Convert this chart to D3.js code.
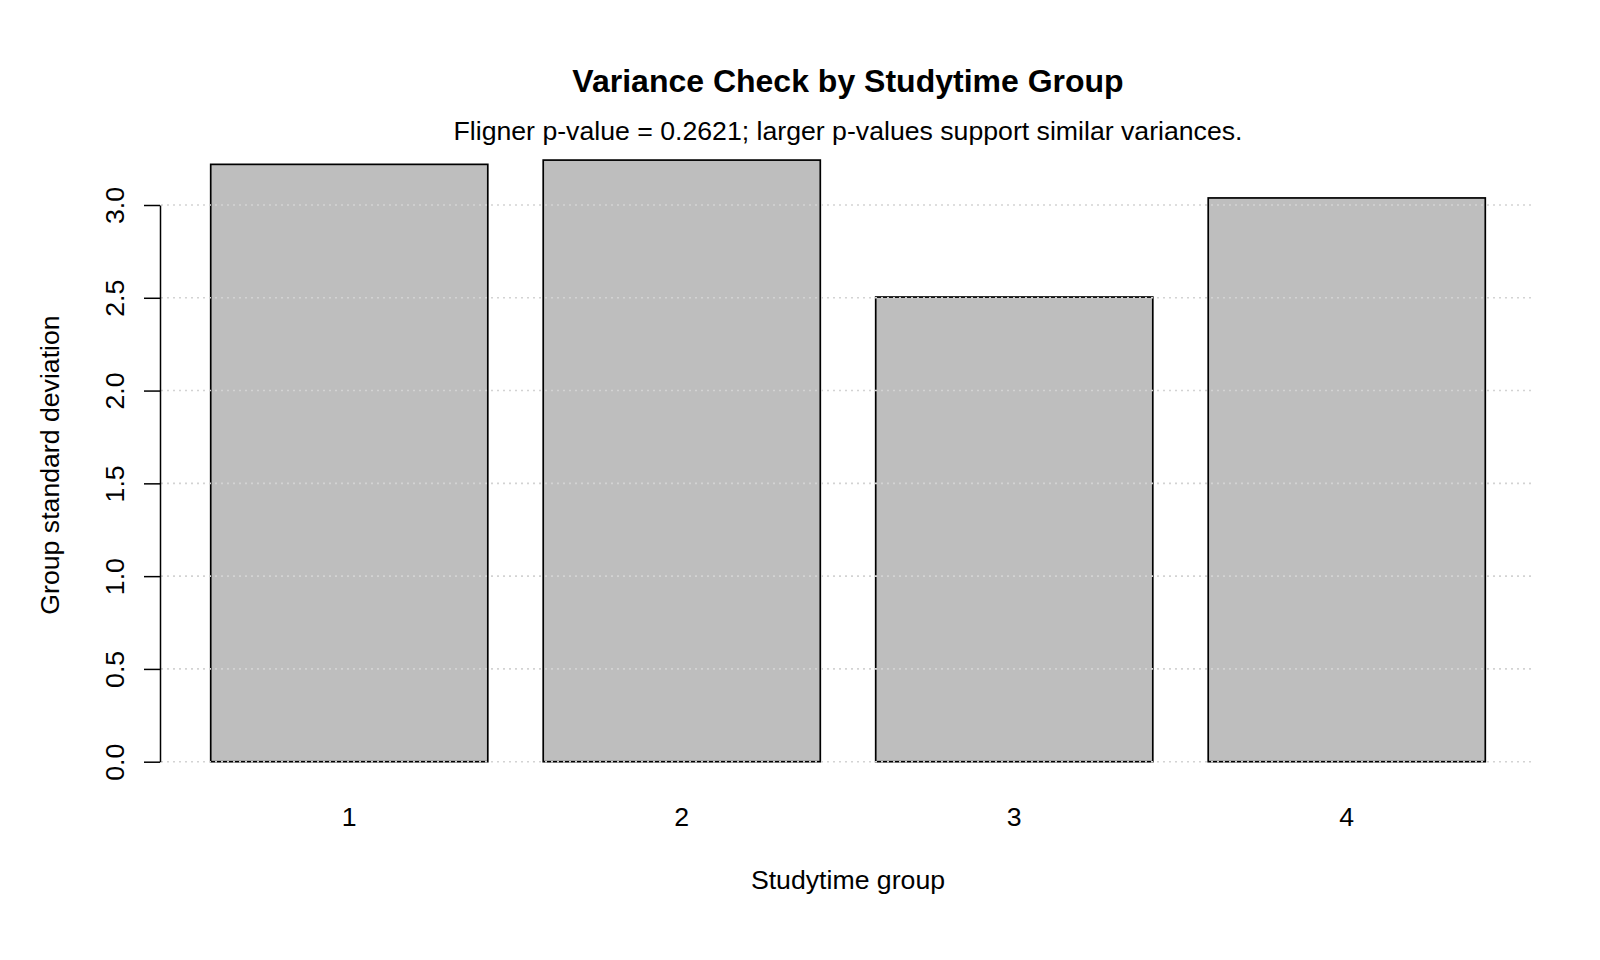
<!DOCTYPE html>
<html>

<head>
    <meta charset="utf-8">
    <style type="text/css">
        body {
            margin: 0;
            background: white;
        }

        text {
            font-family: "Liberation Sans", Arial, sans-serif;
            fill: black;
        }
    </style>
    <title>Variance Check by Studytime Group</title>
</head>

<body>
    <div id="chart"></div>

    <script src="https://cdn.jsdelivr.net/npm/d3@7"></script>
    <script>

        // data
        var groups = ["1", "2", "3", "4"];
        var groupSd = [3.219, 3.242, 2.504, 3.038];
        var yTicks = [0, 0.5, 1.0, 1.5, 2.0, 2.5, 3.0];

        var titleText = "Variance Check by Studytime Group";
        var subtitleText = "Fligner p-value = 0.2621; larger p-values support similar variances.";
        var xLabel = "Studytime group";
        var yLabel = "Group standard deviation";

        var width = 1600,
            height = 960;

        // plot region (R style, axis sits on the left edge)
        var plotLeft = 160,
            plotRight = 1536,
            gridRight = 1531;

        var svg = d3.select("#chart")
            .append("svg")
            .attr("width", width)
            .attr("height", height);

        var x = d3.scaleBand()
            .domain(groups)
            .range([plotLeft, plotRight])
            .paddingInner(0.2 / 1.2)
            .paddingOuter(0.1525);

        var y = d3.scaleLinear()
            .domain([0, 3])
            .range([761.7, 205]);

        //bars
        svg.append("g")
            .selectAll("rect")
            .data(groupSd)
            .enter()
            .append("rect")
            .attr("x", function (d, i) { return x(groups[i]); })
            .attr("y", function (d) { return y(d); })
            .attr("width", x.bandwidth())
            .attr("height", function (d) { return y(0) - y(d); })
            .style("fill", "#bebebe")
            .style("stroke", "black")
            .style("stroke-width", 1.7);

        //dotted reference lines go on top of the bars
        svg.append("g")
            .selectAll("line")
            .data(yTicks)
            .enter()
            .append("line")
            .attr("x1", plotLeft + 1)
            .attr("x2", gridRight)
            .attr("y1", function (d) { return y(d); })
            .attr("y2", function (d) { return y(d); })
            .style("stroke", "#d3d3d3")
            .style("stroke-width", 1.6)
            .style("stroke-dasharray", "2,4");

        //y axis
        var yAxis = svg.append("g")
            .attr("transform", "translate(" + plotLeft + ",0)")
            .call(d3.axisLeft(y)
                .tickValues(yTicks)
                .tickFormat(d3.format(".1f"))
                .tickSize(16)
                .tickSizeOuter(0)
                .tickPadding(0));

        yAxis.select(".domain")
            .style("stroke", "black")
            .style("stroke-width", 1.5);

        yAxis.selectAll(".tick line")
            .style("stroke", "black")
            .style("stroke-width", 1.5);

        yAxis.selectAll(".tick text")
            .attr("x", null)
            .attr("dy", null)
            .attr("text-anchor", "middle")
            .attr("transform", "translate(-36,0) rotate(-90)")
            .style("font-family", "'Liberation Sans', Arial, sans-serif")
            .style("font-size", "26.67px")
            .style("fill", "black");

        //x labels under each bar (no axis line, like barplot names.arg)
        svg.append("g")
            .selectAll("text")
            .data(groups)
            .enter()
            .append("text")
            .attr("x", function (d) { return x(d) + x.bandwidth() / 2; })
            .attr("y", 825.5)
            .attr("text-anchor", "middle")
            .style("font-size", "26.67px")
            .text(function (d) { return d; });

        //titles
        var midX = (plotLeft + plotRight) / 2;

        svg.append("text")
            .attr("x", midX)
            .attr("y", 92)
            .attr("text-anchor", "middle")
            .style("font-size", "32px")
            .style("font-weight", "bold")
            .text(titleText);

        svg.append("text")
            .attr("x", midX)
            .attr("y", 140)
            .attr("text-anchor", "middle")
            .style("font-size", "26.67px")
            .text(subtitleText);

        svg.append("text")
            .attr("x", midX)
            .attr("y", 888.5)
            .attr("text-anchor", "middle")
            .style("font-size", "26.67px")
            .text(xLabel);

        svg.append("text")
            .attr("transform", "translate(58.5,465) rotate(-90)")
            .attr("text-anchor", "middle")
            .style("font-size", "26.67px")
            .text(yLabel);

    </script>
</body>

</html>
